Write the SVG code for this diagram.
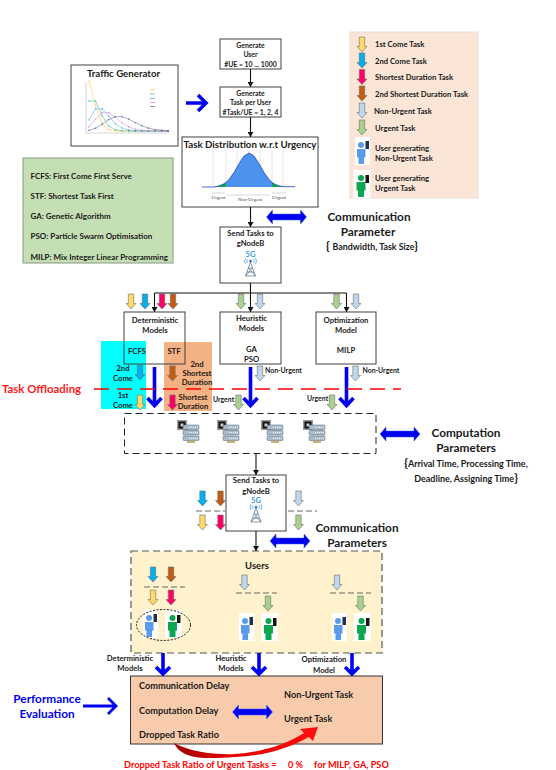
<svg xmlns="http://www.w3.org/2000/svg" width="556" height="770" viewBox="0 0 556 770">
<style>
text{font-family:Lato,"Liberation Sans",sans-serif;font-weight:700;fill:#1a1a1a;font-size:7.700px;text-anchor:middle}
.l{text-anchor:start}
.t6{font-size:6.900px}
.t12{font-size:9.700px}
.t13{font-size:11.800px}
.t9{font-size:9.200px}
.t10{font-size:9.500px}
.abbr text{font-size:8px}
.br{font-size:12px}
.box{fill:#fff;stroke:#404040;stroke-width:1}
.c{fill:none;stroke:#111;stroke-width:1.100}
.big{fill:none;stroke:#0000f0;stroke-width:3.600}
.dbl{fill:#0000f0;stroke:#3060e0;stroke-width:.5}
.y{fill:#ffd966}.b{fill:#00b0f0}.p{fill:#ff0066}.r{fill:#c55a11}.n{fill:#bdd7ee}.g{fill:#a9d18e}
.ch{fill:none;stroke-width:.6;opacity:.7}
.ser{font:400 5px "Liberation Serif",serif;fill:#444}
</style>
<defs>
<path id="a" stroke="#6f6f6f" stroke-width=".6" d="M-2.700 0H2.700V9.500H5L0 15L-5 9.500H-2.700Z"/>
<marker id="h" markerUnits="userSpaceOnUse" markerWidth="6" markerHeight="6" refX="5" refY="3" orient="auto"><path d="M0 0L5 3L0 6Z" fill="#111"/></marker>
<marker id="dy" markerUnits="userSpaceOnUse" markerWidth="2" markerHeight="2" refX="1" refY="1"><circle cx="1" cy="1" r=".8" fill="#ffc000"/></marker>
<marker id="dt" markerUnits="userSpaceOnUse" markerWidth="2" markerHeight="2" refX="1" refY="1"><circle cx="1" cy="1" r=".8" fill="#00a884"/></marker>
<marker id="db" markerUnits="userSpaceOnUse" markerWidth="2" markerHeight="2" refX="1" refY="1"><circle cx="1" cy="1" r=".8" fill="#2196f3"/></marker>
<marker id="dp" markerUnits="userSpaceOnUse" markerWidth="2" markerHeight="2" refX="1" refY="1"><circle cx="1" cy="1" r=".8" fill="#d070d0"/></marker>
<marker id="dn" markerUnits="userSpaceOnUse" markerWidth="2" markerHeight="2" refX="1" refY="1"><circle cx="1" cy="1" r=".8" fill="#3f3f7f"/></marker>
<path id="big" class="big" d="M0 0V39M-7 31L0 38.500L7 31"/>
<path id="dbl" class="dbl" d="M0 0L6 -7V-3H34V-7L40 0L34 7V3H6V7Z"/>
<g id="ub">
<rect width="15" height="28" fill="#fff"/><circle cx="6" cy="8" r="3" fill="#5b9bec"/>
<path d="M2 12H10.500V20.500H9V27H3.500V20.500H2Z" fill="#5b9bec"/><rect x="10.500" y="4" width="3.500" height="8" fill="#1f2f55"/>
</g>
<g id="ug">
<rect width="17" height="28" fill="#fff"/><circle cx="7.500" cy="8" r="3" fill="#0aa650"/>
<path d="M3 12H12V20.500H10.500V27H4.500V20.500H3Z" fill="#0aa650"/><rect x="12" y="5" width="3.500" height="8" fill="#151515"/>
</g>
<g id="srv">
<rect x="0" y="0" width="10" height="10" fill="#999"/><rect x="1.500" y="1.500" width="7" height="7" fill="#111"/><rect x="3.500" y="3.500" width="3" height="3" fill="#ccc"/>
<g fill="#a8bccb" stroke="#50606e" stroke-width=".5"><rect x="6" y="5" width="16" height="4.500" rx="1"/><rect x="6" y="10.500" width="16" height="4.500" rx="1"/><rect x="6" y="16" width="16" height="4.500" rx="1"/></g>
<path d="M12 7.200H21M12 12.700H21M12 18.200H21" stroke="#fff" stroke-width="1" stroke-dasharray="1 1"/>
<rect x="10" y="21" width="8" height="2" fill="#c9b36a"/>
</g>
<g id="tw" fill="none" stroke="#50708c" stroke-width=".7">
<path d="M0 -1L-5 13H5ZM-3.500 9H3.500M-2 5H2M-5 13L2 5M5 13L-2 5"/>
<circle cx="0" cy="-2" r="1" fill="#1f4f8c"/>
<path stroke="#3a9be0" d="M-3 -4Q-4.500 -2 -3 0M3 -4Q4.500 -2 3 0M-5 -5Q-7 -2 -5 1M5 -5Q7 -2 5 1"/>
</g>
<linearGradient id="rg" x1="0" x2="1" y1="0" y2="0"><stop offset="0" stop-color="#a00000"/><stop offset=".35" stop-color="#e00000"/><stop offset="1" stop-color="#ff1010"/></linearGradient>
</defs>

<g id="traffic-generator">
<rect class="box" x="71" y="65" width="107" height="81"/>
<text class="t12" x="123.500" y="77">Traffic Generator</text>
<path d="M86 82V133H170" fill="none" stroke="#aaa" stroke-width=".5"/>
<g stroke-linejoin="round">
<polyline class="ch" stroke="#ffc000" marker-start="url(#dy)" marker-mid="url(#dy)" marker-end="url(#dy)" points="89,81.400 95.600,106.200 102.200,124.800 108.800,129.900 115.400,130.800 122,131 128.600,131 135.200,131 141.800,131 148.400,131 155,131 161.600,131 168.200,131"/>
<polyline class="ch" stroke="#00a884" marker-start="url(#dt)" marker-mid="url(#dt)" marker-end="url(#dt)" points="89,101 95.600,101 102.200,116 108.800,126 115.400,129.800 122,130.800 128.600,131 135.200,131 141.800,131 148.400,131 155,131 161.600,131 168.200,131"/>
<polyline class="ch" stroke="#2196f3" marker-start="url(#db)" marker-mid="url(#db)" marker-end="url(#db)" points="89,120 95.600,108.900 102.200,108.900 108.800,116.300 115.400,123.600 122,128 128.600,130 135.200,130.800 141.800,131 148.400,131 155,131 161.600,131 168.200,131"/>
<polyline class="ch" stroke="#d070d0" marker-start="url(#dp)" marker-mid="url(#dp)" marker-end="url(#dp)" points="89,126.900 95.600,118.800 102.200,112.700 108.800,112.700 115.400,117.300 122,122.700 128.600,126.900 135.200,129.200 141.800,130.300 148.400,130.800 155,131 161.600,131 168.200,131"/>
<polyline class="ch" stroke="#3f3f7f" marker-start="url(#dn)" marker-mid="url(#dn)" marker-end="url(#dn)" points="89,130.400 95.600,128.200 102.200,124.100 108.800,119.600 115.400,116.700 122,116.700 128.600,119.100 135.200,122.500 141.800,125.700 148.400,128.100 155,129.500 161.600,130.300 168.200,130.800"/>
</g>
<g stroke-width=".8" fill="none" opacity=".7"><path stroke="#ffc000" d="M150 89.500H155"/><path stroke="#00a884" d="M150 94H155"/><path stroke="#2196f3" d="M150 98.500H155"/><path stroke="#d070d0" d="M150 102.500H155"/><path stroke="#3f3f7f" d="M150 106.500H155"/></g>
</g>

<g id="generate-user">
<rect class="box" x="220" y="39" width="61" height="30"/>
<text class="t6" x="250.500" y="48">Generate</text><text class="t6" x="250.500" y="57">User</text><text class="t6" x="250.500" y="66.500">#UE = 10 ... 1000</text>
</g>
<g id="generate-task">
<rect class="box" x="220" y="87" width="61" height="30"/>
<text class="t6" x="250.500" y="96">Generate</text><text class="t6" x="250.500" y="105">Task per User</text><text class="t6" x="250.500" y="115">#Task/UE = 1, 2, 4</text>
</g>
<g id="task-distribution">
<rect class="box" x="182" y="137" width="136" height="70"/>
<text class="t12" x="250" y="147.500">Task Distribution w.r.t Urgency</text>
<path d="M213 150V187M226 150V187M237 150V187M249 150V187M260 150V187M272 150V187M283 150V187" stroke="#ddd" stroke-width=".7"/>
<path fill="#4c93ee" d="M226 182.400L229 179.500L234 172.500L239 163.700L244 156.100L249 153L254 156.100L259 163.700L264 172.500L269 179.500L272 182.400V187H226Z"/>
<path fill="#0aa650" d="M214 186.700L219 185.900L224 183.800L226 182.400V187H214ZM284 186.700L279 185.900L274 183.800L272 182.400V187H284Z"/>
<path fill="none" stroke="#1f3fbf" stroke-width=".8" d="M202 187H214L219 185.900L224 183.800L226 182.400L229 179.500L234 172.500L239 163.700L244 156.100L249 153L254 156.100L259 163.700L264 172.500L269 179.500L272 182.400L274 183.800L279 185.900L284 186.700H295"/>
<path fill="none" stroke="#999" stroke-width=".4" d="M212 193H225M227 195H270M272 193H286"/>
<text class="ser" x="218.500" y="198.500">Urgent</text><text class="ser" x="250" y="201">Non-Urgent</text><text class="ser" x="279" y="198.500">Urgent</text>
</g>
<g id="send-tasks-1">
<rect class="box" x="220" y="227" width="61" height="56"/>
<text x="250.500" y="235.500">Send Tasks to</text><text x="250.500" y="246">gNodeB</text>
<text style="fill:#3a9be0" x="250.500" y="257">5G</text>
<use href="#tw" x="250.500" y="263"/>
</g>

<g id="abbreviations">
<rect x="23" y="158" width="150" height="105" fill="#c5dfb4" stroke="#8a9a80"/>
<g class="abbr"><text class="l" x="30.500" y="179">FCFS: First Come First Serve</text><text class="l" x="30.500" y="199">STF: Shortest Task First</text><text class="l" x="30.500" y="219">GA: Genetic Algorithm</text><text class="l" x="30.500" y="239">PSO: Particle Swarm Optimisation</text><text class="l" x="30.500" y="260">MILP: Mix Integer Linear Programming</text></g>
</g>

<g id="legend">
<rect x="350" y="32" width="128" height="166" fill="#fbe5d6" stroke="#e8ddd4"/>
<use href="#a" class="y" x="362" y="37"/><use href="#a" class="b" x="362" y="53"/><use href="#a" class="p" x="362" y="69.500"/><use href="#a" class="r" x="362" y="86"/><use href="#a" class="n" x="362" y="103"/><use href="#a" class="g" x="362" y="120"/>
<text class="l" x="375" y="47">1st Come Task</text><text class="l" x="375" y="63.500">2nd Come Task</text><text class="l" x="375" y="80">Shortest Duration Task</text><text class="l" x="375" y="96.500">2nd Shortest Duration Task</text><text class="l" x="374" y="113.500">Non-Urgent Task</text><text class="l" x="375" y="130.500">Urgent Task</text>
<use href="#ub" x="355" y="137"/><use href="#ug" x="353.500" y="170"/>
<text class="l" x="375" y="150.500">User generating</text><text class="l" x="375" y="160.500">Non-Urgent Task</text><text class="l" x="375" y="180.500">User generating</text><text class="l" x="375" y="190.500">Urgent Task</text>
</g>

<g id="communication-parameter">
<use href="#dbl" x="266.500" y="217"/>
<text class="t13" x="369" y="221">Communication</text><text class="t13" x="368" y="235.500">Parameter</text>
<text style="font-size:8.800px" x="372" y="250"><tspan class="br">{ </tspan>Bandwidth, Task Size<tspan class="br">}</tspan></text>
</g>

<g id="fcfs-region"><rect x="101" y="341" width="45" height="68" fill="#00ffff"/></g>
<g id="stf-region"><rect x="164" y="342" width="48" height="69" fill="#f4b183"/></g>

<g id="deterministic-models">
<rect x="124" y="312" width="61" height="52" fill="none" stroke="#404040"/>
<text x="155" y="323">Deterministic</text><text x="155" y="333">Models</text><text x="137" y="354">FCFS</text><text x="174" y="354">STF</text>
<text x="123" y="371">2nd</text><text x="123" y="381">Come</text><text x="123" y="398">1st</text><text x="123" y="408">Come</text>
<text x="197" y="366.500">2nd</text><text x="197" y="376">Shortest</text><text x="197" y="385">Duration</text>
<text x="193" y="400">Shortest</text><text x="193" y="409">Duration</text>
</g>
<g id="heuristic-models">
<rect class="box" x="220" y="312" width="61" height="52"/>
<text x="251.500" y="321">Heuristic</text><text x="251.500" y="331">Models</text><text x="251.500" y="352">GA</text><text x="251.500" y="362">PSO</text>
</g>
<g id="optimization-model">
<rect class="box" x="316" y="312" width="60" height="52"/>
<text x="346" y="323">Optimization</text><text x="346" y="333">Model</text><text x="346" y="353">MILP</text>
</g>

<g id="model-arrows">
<use href="#a" class="y" x="131" y="294"/><use href="#a" class="b" x="145" y="294"/><use href="#a" class="p" x="162" y="294"/><use href="#a" class="r" x="173" y="294"/>
<use href="#a" class="g" x="241" y="294"/><use href="#a" class="n" x="260" y="294"/><use href="#a" class="g" x="336.500" y="294"/><use href="#a" class="n" x="356" y="294"/>
<use href="#a" class="b" x="140" y="365"/><use href="#a" class="y" x="140" y="395"/><use href="#a" class="r" x="172.500" y="366"/><use href="#a" class="p" x="172.500" y="395"/>
<use href="#a" class="n" x="260" y="366"/><use href="#a" class="g" x="238.500" y="395"/><use href="#a" class="n" x="355.500" y="366"/><use href="#a" class="g" x="332" y="395"/>
<text class="l t6" x="213" y="402">Urgent</text><text class="l t6" x="265" y="373">Non-Urgent</text><text class="l t6" x="362.500" y="373">Non-Urgent</text><text class="l t6" x="307" y="401">Urgent</text>
<use href="#big" x="154.500" y="367"/><use href="#big" x="250.500" y="367"/><use href="#big" x="346.500" y="367"/>
</g>

<g id="task-offloading">
<path d="M94 389H401" stroke="#ff0000" stroke-width="1.400" stroke-dasharray="15 8" fill="none"/>
<text class="l" style="fill:#ff1a1a;font-size:11.400px" x="2" y="393">Task Offloading</text>
</g>

<g id="computation-nodes">
<rect x="124.500" y="413.500" width="251.500" height="40" fill="none" stroke="#222" stroke-width="1" stroke-dasharray="7 4"/>
<use href="#srv" x="177" y="420"/><use href="#srv" x="217" y="420"/><use href="#srv" x="261" y="420"/><use href="#srv" x="303" y="420"/>
</g>
<g id="computation-parameters">
<use href="#dbl" x="380" y="434"/>
<text class="t13" x="466" y="437">Computation</text><text class="t13" x="466" y="452">Parameters</text>
<text style="font-size:9px" x="466" y="467"><tspan class="br">{</tspan>Arrival Time, Processing Time,</text><text style="font-size:9px" x="466" y="481.500">Deadline, Assigning Time<tspan class="br">}</tspan></text>
</g>

<g id="send-tasks-2">
<rect class="box" x="226" y="475" width="60" height="56"/>
<text x="256" y="483">Send Tasks to</text><text x="256" y="493.500">gNodeB</text>
<text style="fill:#3a9be0" x="256" y="503">5G</text>
<use href="#tw" x="256" y="509"/>
<use href="#a" class="b" x="202.500" y="491"/><use href="#a" class="r" x="220.500" y="491"/><use href="#a" class="n" x="298.500" y="491"/>
<use href="#a" class="y" x="202.500" y="515"/><use href="#a" class="p" x="220.500" y="515"/><use href="#a" class="g" x="298.500" y="515"/>
<path d="M196 511H225M288 511H317" stroke="#555" stroke-width=".9" stroke-dasharray="6 3" fill="none"/>
</g>
<g id="communication-parameters">
<use href="#dbl" x="270" y="541"/>
<text class="t13" x="357" y="532">Communication</text><text class="t13" x="357" y="547">Parameters</text>
</g>

<g id="users">
<rect x="131" y="551" width="251" height="102" fill="#fff2cc" stroke="#555" stroke-width="1.200" stroke-dasharray="7 4"/>
<text class="t10" x="257" y="569">Users</text>
<use href="#a" class="b" x="153" y="567"/><use href="#a" class="r" x="171" y="567"/><use href="#a" class="y" x="153" y="590"/><use href="#a" class="p" x="171" y="590"/>
<use href="#a" class="n" x="244.500" y="575"/><use href="#a" class="g" x="268" y="596"/><use href="#a" class="n" x="337" y="575"/><use href="#a" class="g" x="360.500" y="596"/>
<path d="M144 587H185M236 593H277M330 593H371" stroke="#555" stroke-width=".9" stroke-dasharray="6 3" fill="none"/>
<use href="#ub" x="143" y="610"/><use href="#ug" x="165" y="610"/><use href="#ub" x="239" y="613"/><use href="#ug" x="261" y="613"/><use href="#ub" x="332" y="613"/><use href="#ug" x="354" y="613"/>
<ellipse cx="163.500" cy="625" rx="27" ry="15.500" fill="none" stroke="#111" stroke-width="1" stroke-dasharray="2 1.500"/>
</g>

<g id="performance">
<rect x="130.500" y="676" width="252" height="68" fill="#f8cbad" stroke="#333" stroke-width="1"/>
<text class="l t9" x="139" y="689">Communication Delay</text><text class="l t9" x="139" y="714">Computation Delay</text><text class="l t9" x="139" y="738">Dropped Task Ratio</text><text class="l t9" x="284" y="698">Non-Urgent Task</text><text class="l t9" x="284" y="722">Urgent Task</text>
<use href="#dbl" x="232.500" y="712"/>
<path fill="url(#rg)" d="M174 743C190 752 215 755 235 754C262 752 285 745 304 733L300 729L318 727L313 741L309 737C285 750 262 756 235 757C205 759 182 760 174 743Z"/>
<text style="fill:#0000f0;font-size:11.800px" x="47" y="703">Performance</text><text style="fill:#0000f0;font-size:11.800px" x="47" y="718">Evaluation</text>
<path class="big" style="stroke-width:2.800" d="M83 706H116M108 698L116 706L108 714"/>
<text class="l t9" style="fill:#ff0000" x="124" y="768">Dropped Task Ratio of Urgent Tasks =</text><text class="l t9" style="fill:#ff0000" x="288" y="768">0 %</text><text class="l t9" style="fill:#ff0000" x="314" y="768">for MILP, GA, PSO</text>
<text x="130" y="661">Deterministic</text><text x="130" y="671">Models</text><text x="231" y="661">Heuristic</text><text x="231" y="671">Models</text><text x="324" y="662">Optimization</text><text x="324" y="673">Model</text>
</g>

<g id="connectors">
<path class="c" marker-end="url(#h)" d="M250.500 69V87"/>
<path class="c" marker-end="url(#h)" d="M250.500 117V137"/>
<path class="c" marker-end="url(#h)" d="M250.500 207V227"/>
<path class="c" d="M154.500 293H346.500"/><path class="c" d="M250.500 283V293"/>
<path class="c" marker-end="url(#h)" d="M154.500 293V312"/>
<path class="c" marker-end="url(#h)" d="M250.500 293V312"/>
<path class="c" marker-end="url(#h)" d="M346.500 293V312"/>
<path class="c" marker-end="url(#h)" d="M256 453V475"/>
<path class="c" marker-end="url(#h)" d="M256 531V551"/>
<path class="big" d="M186 103H206M198 95L206 103L198 111"/>
<path class="big" d="M163 653V674M156 667L163 674L170 667"/>
<path class="big" d="M259 653V674M252 667L259 674L266 667"/>
<path class="big" d="M352 653V674M345 667L352 674L359 667"/>
</g>
</svg>
